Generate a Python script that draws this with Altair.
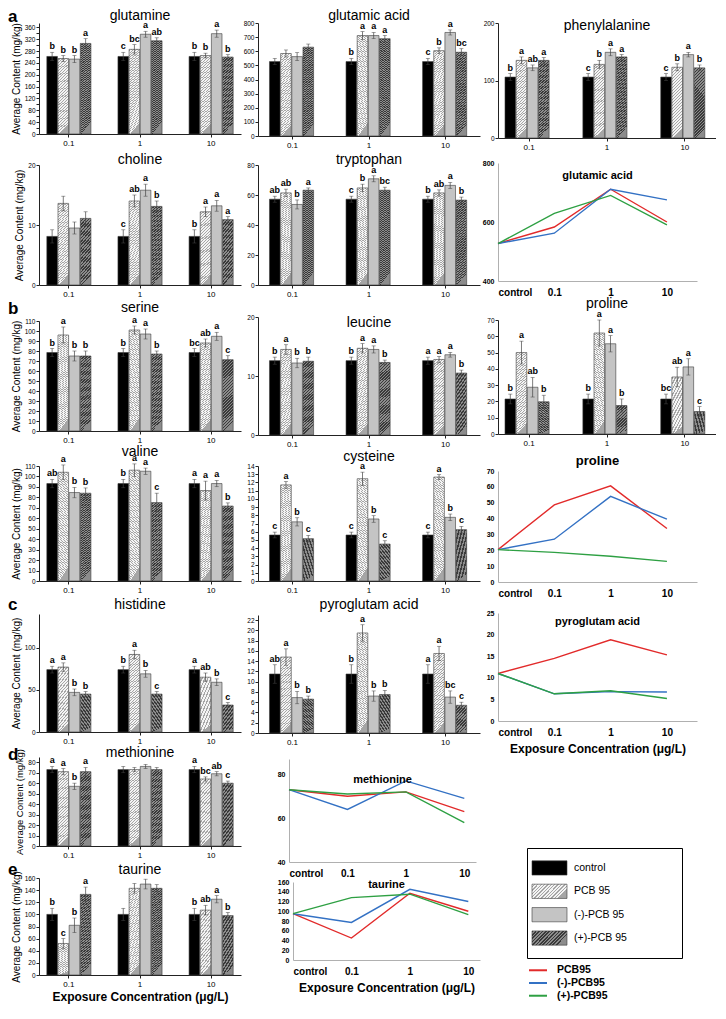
import altair as alt
import pandas as pd

FONT = "Liberation Sans"
CONC = ["0.1", "1", "10"]
SERIES = ["control", "PCB 95", "(-)-PCB 95", "(+)-PCB 95"]
DOSE = ["control", "0.1", "1", "10"]
LINE_SERIES = ["PCB95", "(-)-PCB95", "(+)-PCB95"]
LINE_COLORS = ["#e22a2a", "#3371c4", "#2ea043"]
YTITLE = "Average Content (mg/kg)"
XTITLE = "Exposure Concentration (\u03bcg/L)"

# ---- bar panels: one row per concentration (0.1, 1, 10), one column per series
glutamine_mean = [[262, 255, 253, 306], [262, 286, 337, 315], [262, 265, 339, 260]]
glutamine_err = [[14, 10, 12, 16], [14, 16, 10, 10], [14, 8, 12, 8]]
glutamine_sig = [["b", "b", "b", "a"], ["c", "bc", "a", "ab"], ["b", "b", "a", "b"]]

glutamic_mean = [[527, 584, 562, 629], [527, 711, 711, 689], [527, 604, 733, 593]]
glutamic_err = [[22, 25, 28, 22], [22, 28, 22, 22], [22, 20, 18, 25]]
glutamic_sig = [["", "", "", ""], ["b", "a", "a", "a"], ["c", "b", "a", "bc"]]

phenyl_mean = [[106, 135, 122, 135], [106, 128, 149, 141], [106, 123, 145, 122]]
phenyl_err = [[6, 6, 5, 5], [6, 7, 6, 4], [6, 6, 4, 5]]
phenyl_sig = [["b", "a", "ab", "a"], ["c", "b", "a", "a"], ["c", "b", "a", "b"]]

choline_mean = [[8.1, 13.6, 9.5, 11.1], [8.1, 14.0, 15.8, 13.1], [8.1, 12.2, 13.2, 10.9]]
choline_err = [[1.1, 1.2, 1.0, 1.1], [1.1, 1.0, 1.0, 0.9], [1.1, 0.8, 0.9, 0.5]]
choline_sig = [["", "", "", ""], ["c", "ab", "a", "b"], ["b", "a", "a", "a"]]

trypto_mean = [[57.2, 61.4, 53.7, 63.2], [57.2, 64.7, 70.8, 63.2], [57.2, 61.4, 66.4, 56.6]]
trypto_err = [[2, 2.5, 3, 1.5], [2, 2.5, 2, 2], [2, 2, 2, 2]]
trypto_sig = [["ab", "ab", "b", "a"], ["c", "b", "a", "bc"], ["b", "ab", "a", "b"]]

serine_mean = [[78.5, 96, 75, 75], [78.5, 101, 97, 77], [78.5, 88, 94.7, 71.3]]
serine_err = [[4, 8, 5, 5], [4, 4, 5, 3], [4, 4, 4, 4]]
serine_sig = [["b", "a", "b", "b"], ["b", "a", "a", "b"], ["bc", "ab", "a", "c"]]

leucine_mean = [[12.6, 14.5, 12.2, 12.5], [12.6, 14.7, 14.5, 12.3], [12.6, 12.8, 13.6, 10.5]]
leucine_err = [[0.6, 0.8, 0.8, 0.7], [0.6, 0.8, 0.6, 0.4], [0.6, 0.5, 0.4, 0.5]]
leucine_sig = [["b", "a", "b", "b"], ["b", "a", "a", "b"], ["a", "a", "a", "b"]]

proline_mean = [[21.5, 50, 28.7, 19.8], [21.5, 62, 55.4, 17.5], [21.5, 35, 41.2, 13.8]]
proline_err = [[3, 7, 6, 4], [3, 8, 5, 4], [3, 6, 5, 3]]
proline_sig = [["b", "a", "ab", "b"], ["b", "a", "a", "b"], ["bc", "ab", "a", "c"]]

valine_mean = [[93.2, 104, 84.6, 84], [93.2, 106, 105, 75], [93.2, 86.5, 93.2, 71.7]]
valine_err = [[4, 7, 5, 5], [4, 6, 3, 9], [4, 9, 3, 3]]
valine_sig = [["ab", "a", "b", "b"], ["b", "a", "a", "c"], ["a", "a", "a", "b"]]

cysteine_mean = [[5.6, 11.7, 7.2, 5.15], [5.6, 12.45, 7.55, 4.5], [5.6, 12.65, 7.75, 6.25]]
cysteine_err = [[0.35, 0.4, 0.5, 0.4], [0.35, 0.8, 0.4, 0.4], [0.35, 0.3, 0.4, 0.4]]
cysteine_sig = [["c", "a", "b", "c"], ["c", "a", "b", "c"], ["c", "a", "b", "c"]]

histidine_mean = [[74, 77, 47, 45], [74, 92, 69, 45], [74, 65, 59, 32]]
histidine_err = [[4, 5, 4, 3], [4, 5, 4, 3], [4, 5, 4, 3]]
histidine_sig = [["a", "a", "b", "b"], ["b", "a", "b", "c"], ["a", "ab", "b", "c"]]

pyro_mean = [[11.5, 14.8, 6.9, 6.6], [11.5, 19.5, 7.2, 7.5], [11.5, 15.5, 7.0, 5.4]]
pyro_err = [[1.8, 1.6, 1.2, 0.6], [1.8, 1.6, 1.0, 0.8], [1.8, 1.4, 1.2, 0.6]]
pyro_sig = [["ab", "a", "b", "b"], ["b", "a", "b", "b"], ["a", "a", "bc", "c"]]

methio_mean = [[73, 71, 57, 71], [73, 73, 76, 73], [73, 64, 69, 60]]
methio_err = [[3, 3, 3, 4], [3, 2, 2, 2], [3, 2, 2, 2]]
methio_sig = [["a", "a", "b", "a"], ["", "", "", ""], ["a", "bc", "ab", "c"]]

taurine_mean = [[100, 52, 82, 133], [100, 143, 150, 143], [100, 107, 125, 98]]
taurine_err = [[10, 8, 12, 12], [10, 8, 8, 6], [10, 8, 6, 5]]
taurine_sig = [["b", "c", "b", "a"], ["", "", "", ""], ["b", "ab", "a", "b"]]

# ---- line panels: one list per series (PCB95, (-)-PCB95, (+)-PCB95) over DOSE
glut_line = [[527, 583, 711, 600], [527, 562, 711, 675], [527, 629, 690, 590]]
proline_line = [[20.4, 48.6, 60.6, 33.7], [20.4, 27, 54, 39.6], [20.4, 18.7, 16.2, 13]]
pyro_line = [[11, 14.5, 18.8, 15.3], [11, 6.3, 6.8, 6.7], [11, 6.3, 7.0, 5.2]]
methio_line = [[73, 70, 72, 63], [73, 64, 77, 69], [73, 71, 72, 58]]
taurine_line = [[95, 45, 137, 100], [95, 77, 145, 120], [95, 128, 135, 93]]


def stripes(c1, c2, n, x2, y2, frac=0.5):
    stops = []
    for i in range(n):
        a, m, b = i / n, (i + frac) / n, (i + 1) / n
        stops += [alt.GradientStop(offset=a, color=c1), alt.GradientStop(offset=m, color=c1),
                  alt.GradientStop(offset=m, color=c2), alt.GradientStop(offset=b, color=c2)]
    return alt.LinearGradient(gradient="linear", stops=stops, x1=0, y1=0, x2=x2, y2=y2)


BAR_FILLS = ["#000000", stripes("#f4f4f4", "#a6a6a6", 48, 0.15, 1, 0.6), "#c4c4c4",
             stripes("#3a3a3a", "#8c8c8c", 48, 0.15, 1)]
SWATCH_FILLS = ["#000000", stripes("#f4f4f4", "#a6a6a6", 12, 1, 0.4, 0.6), "#c4c4c4",
                stripes("#3a3a3a", "#8c8c8c", 12, 1, 0.4)]


def label_layer(text, x, y, **kw):
    return alt.Chart(pd.DataFrame({"t": [text]})).mark_text(**kw).encode(
        text="t:N", x=alt.value(x), y=alt.value(y))


def pad_layer(pad):
    return alt.Chart(pd.DataFrame({"v": [0]})).mark_point(opacity=0, size=1).encode(
        x=alt.value(0), y=alt.value(-pad))


def bar_panel(name, mean, err, sig, ymax, ystep, w, h, k, band, ytitle=False, xtitle=None,
              letter=None, letter_y=-10, top=None, pad=0, ytfs=10):
    rows = []
    for ci, c in enumerate(CONC):
        for si, s in enumerate(SERIES):
            m = mean[ci][si]
            e = err[ci][si]
            rows.append({"conc": c, "series": s, "value": m, "lo": m - e, "hi": m + e,
                         "sig": sig[ci][si]})
    df = pd.DataFrame(rows)
    xkw = dict(labelAngle=0, labelFontSize=8, tickSize=3, labelPadding=2, domainColor="#222",
               tickColor="#222", titleFontSize=12, titleFontWeight="bold", titlePadding=3)
    xkw["title"] = xtitle
    xenc = alt.X("conc:N", sort=CONC, scale=alt.Scale(paddingInner=band[0], paddingOuter=band[1]),
                 axis=alt.Axis(**xkw))
    xoff = alt.XOffset("series:N", sort=SERIES, scale=alt.Scale(domain=SERIES, paddingInner=0.05))
    nt = int(round(ymax / ystep))
    yvals = [round(i * ystep, 6) for i in range(nt + 1)]
    yaxis = alt.Axis(values=yvals, labelFontSize=6.5, tickSize=3, labelPadding=1, domainColor="#222",
                     tickColor="#222", title=YTITLE if ytitle else None, titleFontSize=ytfs,
                     titleFontWeight="normal", titlePadding=3)
    ysc = alt.Scale(domain=[0, top if top else ymax], nice=False)

    def Y(f):
        return alt.Y(f + ":Q", scale=ysc, axis=yaxis)

    base = alt.Chart(df)
    layers = []
    for s, f in zip(SERIES, BAR_FILLS):
        layers.append(base.transform_filter(alt.datum.series == s)
                      .mark_bar(fill=f, stroke="#3a3a3a", strokeWidth=0.6)
                      .encode(x=xenc, xOffset=xoff, y=Y("value")))
    layers.append(base.mark_rule(color="#444", strokeWidth=0.7)
                  .encode(x=xenc, xOffset=xoff, y=Y("lo"), y2="hi:Q"))
    for f in ["hi", "lo"]:
        layers.append(base.mark_tick(color="#444", thickness=0.7, size=4, orient="horizontal")
                      .encode(x=xenc, xOffset=xoff, y=Y(f)))
    layers.append(base.mark_text(fontSize=9, fontWeight="bold", baseline="bottom", dy=-1)
                  .encode(x=xenc, xOffset=xoff, y=Y("hi"), text="sig:N"))
    layers.append(label_layer(name, w / 2, -k, fontSize=14, baseline="bottom"))
    if letter:
        layers.append(label_layer(letter, -31, letter_y, fontSize=17, fontWeight="bold",
                                  align="left", baseline="middle"))
    if pad:
        layers.append(pad_layer(pad))
    return alt.layer(*layers).properties(width=w, height=h)


def line_panel(name, vals, ymin, ymax, ystep, w, h, k, pscale, xtitle=None, tsize=11, pad=0,
               ymaxd=None):
    rows = [{"dose": d, "series": s, "value": v}
            for s, vs in zip(LINE_SERIES, vals) for d, v in zip(DOSE, vs)]
    df = pd.DataFrame(rows)
    xkw = dict(labelAngle=0, labelFontSize=10, labelFontWeight="bold", ticks=False,
               domainColor="#b0b0b0", labelPadding=6, titleFontSize=12, titleFontWeight="bold",
               titlePadding=6,
               labelAlign={"condition": {"test": "datum.value === 'control'", "value": "left"},
                           "value": "center"})
    xkw["title"] = xtitle
    nt = int(round((ymax - ymin) / ystep))
    yvals = [ymin + i * ystep for i in range(nt + 1)]
    line = alt.Chart(df).mark_line(strokeWidth=1.4).encode(
        x=alt.X("dose:N", sort=DOSE, scale=alt.Scale(type="point", padding=pscale, align=0),
                axis=alt.Axis(**xkw)),
        y=alt.Y("value:Q", scale=alt.Scale(domain=[ymin, ymaxd if ymaxd else ymax], nice=False),
                axis=alt.Axis(values=yvals, labelFontSize=7, labelFontWeight="bold", ticks=False,
                              domainColor="#b0b0b0", title=None, labelPadding=4)),
        color=alt.Color("series:N", sort=LINE_SERIES,
                        scale=alt.Scale(domain=LINE_SERIES, range=LINE_COLORS), legend=None),
    )
    layers = [line, label_layer(name, w / 2, -k, fontSize=tsize, fontWeight="bold",
                                baseline="bottom")]
    if pad:
        layers.append(pad_layer(pad))
    return alt.layer(*layers).properties(width=w, height=h)


def spacer(w, h):
    return alt.Chart(pd.DataFrame({"v": [0]})).mark_point(opacity=0).encode(
        x=alt.value(0), y=alt.value(0)).properties(width=w, height=h)


def legend_box():
    df = pd.DataFrame({"series": SERIES})
    ly = alt.Y("series:N", sort=SERIES, axis=None,
               scale=alt.Scale(domain=SERIES, paddingInner=0.39, paddingOuter=0.55))
    layers = [alt.Chart(df).transform_filter(alt.datum.series == s)
              .mark_bar(fill=f, stroke="#3a3a3a", strokeWidth=0.6)
              .encode(y=ly, x=alt.value(5), x2=alt.value(40))
              for s, f in zip(SERIES, SWATCH_FILLS)]
    layers.append(alt.Chart(df).mark_text(align="left", fontSize=10.5)
                  .encode(y=ly, x=alt.value(47), text="series:N"))
    return alt.layer(*layers).properties(width=155, height=110,
                                         view=alt.ViewBackground(stroke="#000", strokeWidth=1))


def legend_lines():
    df = pd.DataFrame({"series": LINE_SERIES})
    ly = alt.Y("series:N", sort=LINE_SERIES, axis=None,
               scale=alt.Scale(domain=LINE_SERIES, padding=0.3))
    rules = alt.Chart(df).mark_rule(strokeWidth=2).encode(
        y=ly, x=alt.value(0), x2=alt.value(18),
        color=alt.Color("series:N", scale=alt.Scale(domain=LINE_SERIES, range=LINE_COLORS), legend=None))
    text = alt.Chart(df).mark_text(align="left", fontWeight="bold", fontSize=10.5).encode(
        y=ly, x=alt.value(28), text="series:N")
    return alt.layer(rules, text).properties(width=100, height=42)


W1, W2, W3 = 202, 222, 218
B1, B2, B3 = (0.38, 0.11), (0.4, 0.15), (0.38, 0.09)

col1 = alt.vconcat(
    bar_panel("glutamine", glutamine_mean, glutamine_err, glutamine_sig, 360, 20, W1, 111, 0, B1,
              ytitle=True, letter="a", letter_y=-6, top=375),
    bar_panel("choline", choline_mean, choline_err, choline_sig, 20, 10, W1, 120, -2, B1,
              ytitle=True, pad=17),
    bar_panel("serine", serine_mean, serine_err, serine_sig, 110, 10, W1, 110, 6, B1, ytitle=True,
              letter="b", letter_y=-12, pad=22),
    bar_panel("valine", valine_mean, valine_err, valine_sig, 110, 10, W1, 115, 7, B1, ytitle=True,
              pad=21),
    bar_panel("histidine", histidine_mean, histidine_err, histidine_sig, 140, 50, W1, 118, 2, B1,
              ytitle=True, letter="c", letter_y=-9, top=140, pad=19),
    bar_panel("methionine", methio_mean, methio_err, methio_sig, 80, 10, W1, 89, -3, B1,
              ytitle=True, letter="d", letter_y=-2, top=85, pad=11, ytfs=9.5),
    bar_panel("taurine", taurine_mean, taurine_err, taurine_sig, 160, 20, W1, 97, 1, B1,
              ytitle=True, xtitle=XTITLE, letter="e", letter_y=-8, pad=18),
    spacing=0,
)

col2 = alt.vconcat(
    bar_panel("glutamic acid", glutamic_mean, glutamic_err, glutamic_sig, 800, 100, W2, 113, 0, B2),
    bar_panel("tryptophan", trypto_mean, trypto_err, trypto_sig, 80, 20, W2, 120, -2, B2, pad=15),
    bar_panel("leucine", leucine_mean, leucine_err, leucine_sig, 20, 10, W2, 118, -13, B2, pad=18),
    bar_panel("cysteine", cysteine_mean, cysteine_err, cysteine_sig, 14, 1, W2, 115, 2, B2, pad=17),
    bar_panel("pyroglutam acid", pyro_mean, pyro_err, pyro_sig, 22, 2, W2, 118, 3, B2, top=23,
              pad=20),
    alt.hconcat(spacer(19, 10),
                line_panel("methionine", methio_line, 40, 80, 20, 187, 103, -26, 0.1, pad=12,
                           ymaxd=87),
                spacing=0),
    alt.hconcat(spacer(19, 10),
                line_panel("taurine", taurine_line, 0, 160, 20, 187, 78, -8, 0.1, xtitle=XTITLE),
                spacing=0),
    spacing=0,
)

col3 = alt.vconcat(
    bar_panel("phenylalanine", phenyl_mean, phenyl_err, phenyl_sig, 200, 100, W3, 115, -10, B3),
    alt.hconcat(line_panel("glutamic acid", glut_line, 400, 800, 200, 199, 118, -18, 0.267, pad=11)),
    bar_panel("proline", proline_mean, proline_err, proline_sig, 70, 10, W3, 114, 9, B3),
    alt.hconcat(line_panel("proline", proline_line, 0, 70, 10, 199, 111, 3, 0.267, tsize=13, pad=23)),
    alt.hconcat(line_panel("pyroglutam  acid", pyro_line, 0, 25, 5, 199, 108, -14, 0.267,
                           xtitle=XTITLE, pad=14)),
    spacer(10, 88),
    alt.hconcat(spacer(28, 10), legend_box(), spacing=0),
    alt.hconcat(spacer(30, 10), legend_lines(), spacing=0),
    spacing=0,
)

chart = alt.hconcat(col1, col2, col3, spacing=2).properties(
    padding={"left": 0, "top": 0, "right": 0, "bottom": 0}
).configure(font=FONT).configure_view(stroke=None).configure_axis(
    grid=False, labelColor="#000", titleColor="#000", labelFont=FONT, titleFont=FONT
).configure_text(font=FONT, color="#000")

chart.save("out.html", embed_options={"renderer": "svg", "actions": False})
